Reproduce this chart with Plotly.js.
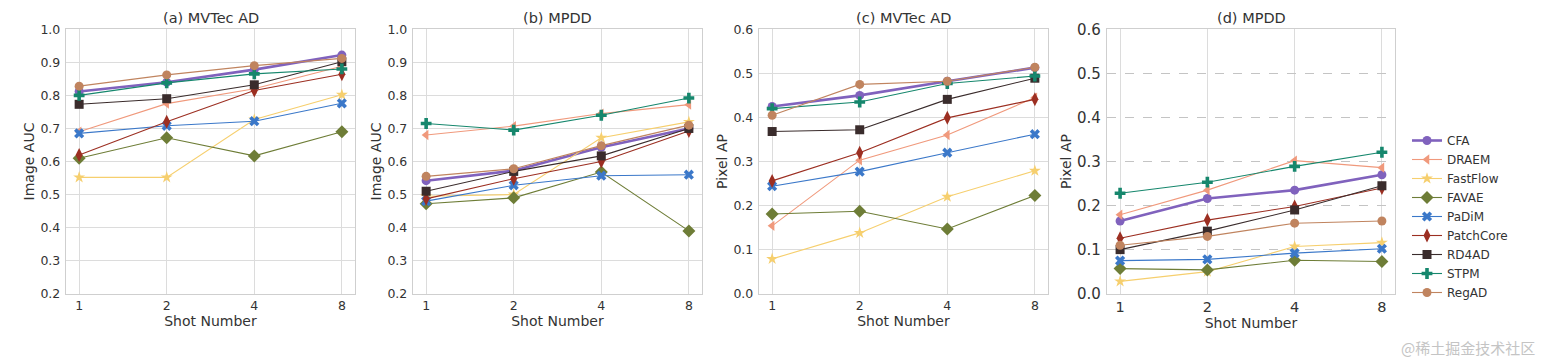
<!DOCTYPE html>
<html>
<head>
<meta charset="utf-8">
<script src="https://cdn.plot.ly/plotly-3.0.1.min.js"></script>
<style>html,body{margin:0;padding:0;background:#fff;}#chart{width:1543px;height:364px;}</style>
</head>
<body>
<div id="chart"></div>
<script>
// ---- data ----
const shots = [1, 2, 4, 8];
const methods = ["CFA", "DRAEM", "FastFlow", "FAVAE", "PaDiM", "PatchCore", "RD4AD", "STPM", "RegAD"];
const panelTitles = ["(a) MVTec AD", "(b) MPDD", "(c) MVTec AD", "(d) MPDD"];
const yTitles = ["Image AUC", "Image AUC", "Pixel AP", "Pixel AP"];

// Image AUC on MVTec AD (order = methods)
const imageAucMVTec = [
  [0.812, 0.840, 0.878, 0.922],
  [0.690, 0.775, 0.820, 0.888],
  [0.552, 0.552, 0.727, 0.802],
  [0.610, 0.672, 0.617, 0.690],
  [0.685, 0.708, 0.722, 0.776],
  [0.620, 0.720, 0.815, 0.864],
  [0.773, 0.790, 0.832, 0.902],
  [0.800, 0.838, 0.865, 0.880],
  [0.828, 0.862, 0.890, 0.912]
];
// Image AUC on MPDD
const imageAucMPDD = [
  [0.542, 0.572, 0.643, 0.700],
  [0.680, 0.707, 0.745, 0.772],
  [0.495, 0.500, 0.672, 0.720],
  [0.472, 0.490, 0.568, 0.390],
  [0.480, 0.528, 0.557, 0.560],
  [0.487, 0.548, 0.600, 0.692],
  [0.510, 0.570, 0.617, 0.700],
  [0.715, 0.695, 0.740, 0.792],
  [0.555, 0.578, 0.648, 0.710]
];
// Pixel AP on MVTec AD
const pixelApMVTec = [
  [0.425, 0.450, 0.482, 0.513],
  [0.154, 0.303, 0.360, 0.445],
  [0.079, 0.138, 0.220, 0.279],
  [0.181, 0.187, 0.147, 0.223],
  [0.244, 0.277, 0.320, 0.362],
  [0.256, 0.320, 0.399, 0.441],
  [0.368, 0.372, 0.441, 0.489],
  [0.420, 0.435, 0.477, 0.494],
  [0.405, 0.475, 0.482, 0.514]
];
// Pixel AP on MPDD
const pixelApMPDD = [
  [0.165, 0.216, 0.235, 0.270],
  [0.179, 0.235, 0.302, 0.286],
  [0.028, 0.050, 0.107, 0.116],
  [0.057, 0.054, 0.076, 0.073],
  [0.075, 0.078, 0.092, 0.102],
  [0.126, 0.167, 0.198, 0.240],
  [0.100, 0.142, 0.190, 0.245],
  [0.228, 0.253, 0.289, 0.321],
  [0.110, 0.130, 0.160, 0.165]
];
const yRanges = [[0.2, 1.0], [0.2, 1.0], [0.0, 0.6], [0.0, 0.6]];
const yTicks = [
  [0.2, 0.3, 0.4, 0.5, 0.6, 0.7, 0.8, 0.9, 1.0],
  [0.2, 0.3, 0.4, 0.5, 0.6, 0.7, 0.8, 0.9, 1.0],
  [0.0, 0.1, 0.2, 0.3, 0.4, 0.5, 0.6],
  [0.0, 0.1, 0.2, 0.3, 0.4, 0.5, 0.6]
];

// ---- styles ----
const colors = ["#8062bd", "#f0997c", "#f6cf6e", "#6e7d37", "#3b78c9", "#9c2f22", "#3a2c2c", "#16876d", "#c0845f"];
const symbols = ["circle", "triangle-left", "star", "diamond", "x", "diamond-tall", "square", "cross", "circle"];
const msizes = [9, 9, 9, 10, 9, 10, 9, 9, 9];
const lwidths = [2.6, 1.1, 1.1, 1.1, 1.1, 1.1, 1.1, 1.1, 1.1];

const panels = [imageAucMVTec, imageAucMPDD, pixelApMVTec, pixelApMPDD];
const W = 1543, H = 364;
const xDomPx = [[66, 355], [413, 702], [759, 1048], [1107, 1395]];
const yDomPx = [29.3, 293.7];

const traces = [];
panels.forEach((data, p) => {
  data.forEach((vals, m) => {
    traces.push({
      type: "scatter", mode: "lines+markers",
      x: shots, y: vals, name: methods[m],
      xaxis: p === 0 ? "x" : "x" + (p + 1),
      yaxis: p === 0 ? "y" : "y" + (p + 1),
      legendgroup: methods[m], showlegend: p === 3,
      line: {color: colors[m], width: lwidths[m]},
      marker: {color: colors[m], symbol: symbols[m], size: msizes[m], line: {width: 0}},
      cliponaxis: false
    });
  });
});

const font = {family: "DejaVu Sans, sans-serif", color: "#333", size: 12};
const layout = {
  width: W, height: H,
  margin: {l: 0, r: 0, t: 0, b: 0},
  paper_bgcolor: "#fff", plot_bgcolor: "#fff",
  font: font,
  showlegend: true,
  legend: {x: 1407 / W, y: 1 - 126 / H, xanchor: "left", yanchor: "top",
           font: {size: 12, color: "#333"}, tracegroupgap: 0, itemwidth: 30, bgcolor: "rgba(0,0,0,0)"},
  annotations: [],
};
const log2 = Math.log10(2);
panels.forEach((d, p) => {
  const xs = p === 0 ? "xaxis" : "xaxis" + (p + 1);
  const ys = p === 0 ? "yaxis" : "yaxis" + (p + 1);
  const big = p === 3;
  layout[xs] = {
    type: "log", domain: [xDomPx[p][0] / W, xDomPx[p][1] / W],
    range: [-0.15 * log2, 3.15 * log2],
    tickvals: shots, ticktext: shots.map(String),
    anchor: p === 0 ? "y" : "y" + (p + 1),
    showgrid: true, gridcolor: "#dcdcdc", gridwidth: 1,
    showline: true, linecolor: "#cfcfcf", linewidth: 1.2, mirror: true,
    ticks: "", 
    tickfont: {size: big ? 14.5 : 12.5, color: "#333"},
    title: {text: "Shot Number", font: {size: 14, color: "#333"}, standoff: 2},
    zeroline: false, automargin: false
  };
  layout[ys] = {
    domain: [1 - yDomPx[1] / H, 1 - yDomPx[0] / H],
    range: yRanges[p], tickvals: yTicks[p], ticktext: yTicks[p].map(v => v.toFixed(1)),
    anchor: p === 0 ? "x" : "x" + (p + 1),
    showgrid: true, gridcolor: big ? "#c4c4c4" : "#dcdcdc", gridwidth: 1, griddash: big ? "dash" : "solid",
    showline: true, linecolor: "#cfcfcf", linewidth: 1.2, mirror: true,
    ticks: "outside", ticklen: 2, tickcolor: "rgba(0,0,0,0)",
    tickfont: {size: big ? 15 : 12.5, color: "#333"},
    title: {text: yTitles[p], font: {size: 14, color: "#333"}, standoff: 2},
    zeroline: false, automargin: false
  };
  layout.annotations.push({
    text: panelTitles[p], xref: "paper", yref: "paper",
    x: (xDomPx[p][0] + xDomPx[p][1]) / 2 / W, y: 1 - 18 / H,
    xanchor: "center", yanchor: "middle", showarrow: false,
    font: {size: 14.5, color: "#333"}
  });
});
layout.annotations.push({
  text: "@稀土掘金技术社区", xref: "paper", yref: "paper",
  x: 1537 / W, y: 1 - 347 / H, xanchor: "right", yanchor: "middle", showarrow: false,
  font: {family: "Noto Sans CJK SC, sans-serif", size: 15, color: "#c4c4c4"}
});

Plotly.newPlot("chart", traces, layout, {displayModeBar: false, staticPlot: true});
</script>
</body>
</html>
